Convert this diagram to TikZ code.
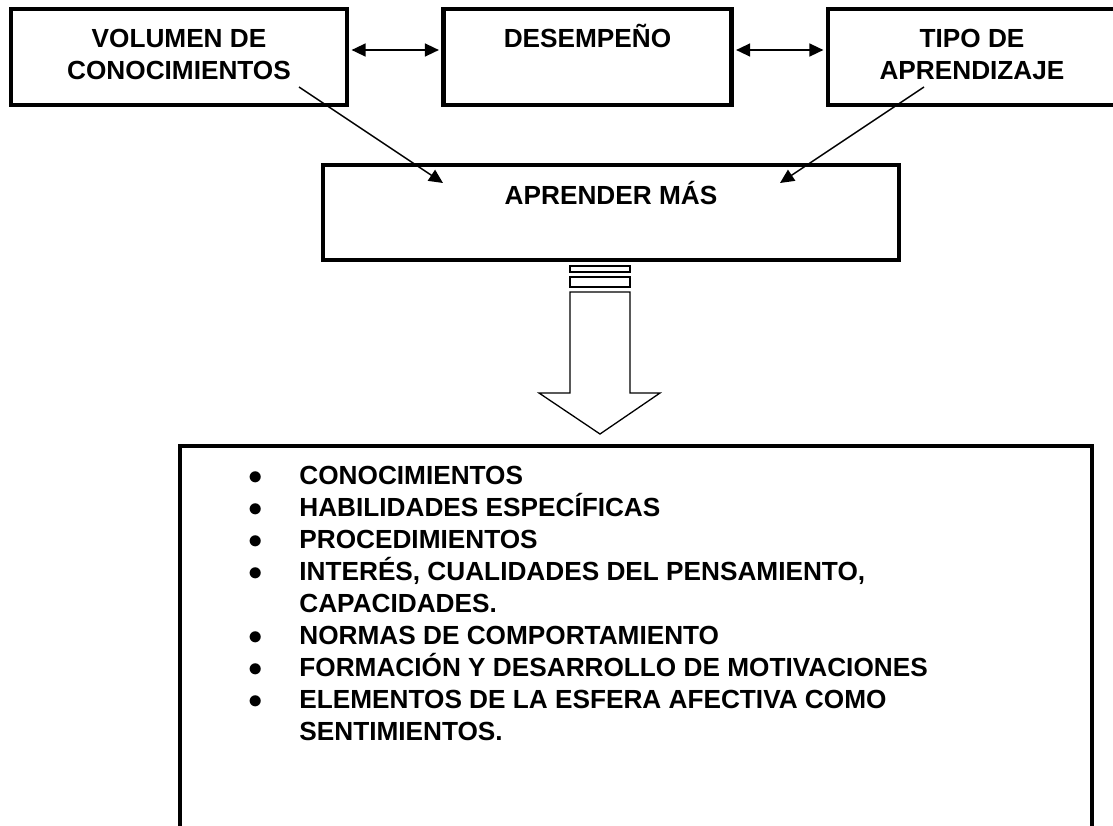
\documentclass[tikz,border=0pt]{standalone}
\usepackage{fontspec}
\setmainfont{Liberation Sans}
\usetikzlibrary{arrows.meta}

\newcommand{\vineta}{\makebox[25.25pt][l]{\fontsize{15}{15}\selectfont$\bullet$}}

\begin{document}
\begin{tikzpicture}[x=0.5pt, y=-0.5pt,
    caja/.style={draw, line width=2.3pt, inner sep=0pt},
    texto/.style={font=\fontsize{13.1}{16}\selectfont\bfseries, inner sep=0pt, align=center, anchor=base},
    punta/.style={-{Triangle[length=7pt, width=6.5pt]}, line width=0.75pt},
    doble/.style={{Triangle[length=7pt, width=6.5pt]}-{Triangle[length=7pt, width=6.5pt]}, line width=0.75pt, shorten <=1.15pt, shorten >=1.15pt}]
    \useasboundingbox (0,0) rectangle (1113,825);
    \clip (0,0) rectangle (1113,825);

    % Top row of boxes (text nodes sit on the baseline of their last line)
    \node[caja, minimum width=168pt, minimum height=48pt] (vol) at (179,57) {};
    \node[caja, minimum width=144pt, minimum height=48pt] (des) at (587.5,57) {};
    \node[caja, minimum width=144pt, minimum height=48pt] (tipo) at (972,57) {};
    \node[texto] (volt) at (179,79) {VOLUMEN DE\\CONOCIMIENTOS};
    \node[texto] (dest) at (587.5,47) {DESEMPEÑO};
    \node[texto] (tipot) at (972,79) {TIPO DE\\APRENDIZAJE};

    \coordinate (fila) at (0,50);
    \draw[doble] (vol.east |- fila) -- (des.west |- fila);
    \draw[doble] (des.east |- fila) -- (tipo.west |- fila);

    % Aprender mas
    \node[caja, minimum width=288pt, minimum height=47.5pt] (apr) at (611,212.5) {};
    \node[texto] (aprt) at (611,204) {APRENDER MÁS};

    \coordinate (v1) at (299,87);
    \coordinate (v2) at (443,183);
    \coordinate (t1) at (924,87);
    \coordinate (t2) at (780,183);
    \draw[punta] (v1) -- (v2);
    \draw[punta] (t1) -- (t2);

    % Big hollow arrow with stripes
    \draw[line width=0.65pt] (570,266) rectangle (630,272);
    \draw[line width=0.65pt] (570,277) rectangle (630,287);
    \draw[line width=0.65pt, line join=miter] (570,292) -- (630,292) -- (630,393) -- (660,393)
        -- (600,434) -- (539,393) -- (570,393) -- cycle;

    % List box
    \node[caja, minimum width=456pt, minimum height=250pt] (lista) at (636,696) {};
    \node[texto, align=left, anchor=base west] (items) at (248.5,740) {%
        \vineta CONOCIMIENTOS\\
        \vineta HABILIDADES ESPECÍFICAS\\
        \vineta PROCEDIMIENTOS\\
        \vineta INTERÉS, CUALIDADES DEL PENSAMIENTO,\\
        \hspace*{25.25pt}CAPACIDADES.\\
        \vineta NORMAS DE COMPORTAMIENTO\\
        \vineta FORMACIÓN Y DESARROLLO DE MOTIVACIONES\\
        \vineta ELEMENTOS DE LA ESFERA AFECTIVA COMO\\
        \hspace*{25.25pt}SENTIMIENTOS.};
\end{tikzpicture}
\end{document}
